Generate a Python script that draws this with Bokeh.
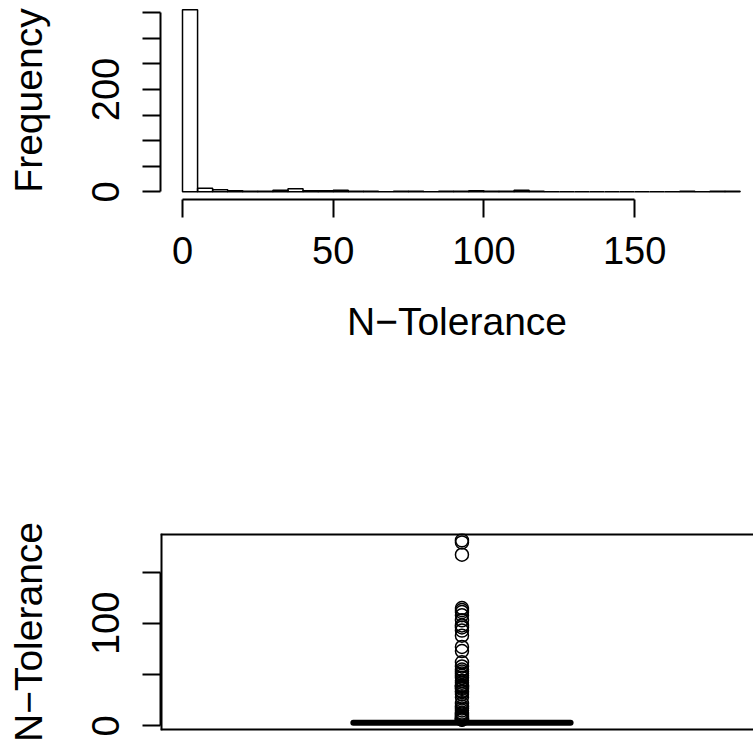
from bokeh.plotting import figure
from bokeh.layouts import column
from bokeh.models import FixedTicker, Range1d, Span
from bokeh.embed import file_html
from bokeh.resources import INLINE

# ---------------- data ----------------
hist_breaks = [0, 5, 10, 15, 20, 25, 30, 35, 40, 45, 50, 55, 60, 65, 70, 75, 80, 85, 90,
               95, 100, 105, 110, 115, 120, 125, 130, 135, 140, 145, 150, 155, 160, 165,
               170, 175, 180, 185]
hist_counts = [356, 7, 4, 2, 1, 1, 3, 6, 2, 2, 3, 1, 1, 0, 1, 1, 0, 1, 1, 2, 1, 1, 3, 1,
               0, 0, 0, 0, 0, 0, 0, 0, 0, 1, 0, 1, 1]

hist_xticks = [0, 50, 100, 150]
hist_yticks = [0, 50, 100, 150, 200, 250, 300, 350]
hist_ylabels_shown = [0, 200]

box_stats = {"low": 2, "q1": 2, "median": 3, "q3": 3, "high": 4}
box_outliers = [6, 6, 7, 7, 8, 9, 10, 11, 12, 13, 15, 17, 19, 22, 28, 31, 33, 34,
                36, 37, 38, 39, 39, 40, 42, 44, 47, 49, 51, 53, 55, 58, 62, 73, 77,
                88, 93, 96, 98, 103, 108, 111, 113, 115, 167, 179, 181]
box_yticks = [0, 50, 100, 150]
box_ylabels_shown = [0, 100]

FONT = "Liberation Sans"
TICK_FS = "38px"
TITLE_FS = "39px"


def style_axis(ax):
    ax.axis_line_color = "black"
    ax.axis_line_width = 2
    ax.major_tick_line_color = "black"
    ax.major_tick_line_width = 2
    ax.major_tick_in = 0
    ax.major_tick_out = 18
    ax.minor_tick_line_color = None
    ax.major_label_text_font = FONT
    ax.major_label_text_font_size = TICK_FS
    ax.major_label_text_color = "black"
    ax.axis_label_text_font = FONT
    ax.axis_label_text_font_size = TITLE_FS
    ax.axis_label_text_font_style = "normal"
    ax.axis_label_text_color = "black"


# ---------------- histogram ----------------
p1 = figure(width=753, height=368, output_backend="svg", toolbar_location=None,
            x_range=Range1d(-7.30, 189.45), y_range=Range1d(-15.06, 372.1),
            min_border_left=160, min_border_right=0, min_border_top=1,
            min_border_bottom=169)
p1.outline_line_color = None
p1.xgrid.visible = False
p1.ygrid.visible = False

p1.quad(left=hist_breaks[:-1], right=hist_breaks[1:], bottom=0, top=hist_counts,
        fill_color=None, line_color="black", line_width=1.5)

xa = p1.xaxis[0]
style_axis(xa)
xa.ticker = FixedTicker(ticks=hist_xticks, minor_ticks=[])
xa.bounds = (hist_xticks[0], hist_xticks[-1])
xa.major_label_standoff = 19
xa.axis_label = "N\u2212Tolerance"
xa.axis_label_standoff = 33

ya = p1.yaxis[0]
style_axis(ya)
ya.ticker = FixedTicker(ticks=hist_yticks, minor_ticks=[])
ya.bounds = (hist_yticks[0], hist_yticks[-1])
ya.major_label_overrides = {t: "" for t in hist_yticks if t not in hist_ylabels_shown}
ya.major_label_orientation = "vertical"
ya.major_label_standoff = 23
ya.axis_label = "Frequency"
ya.axis_label_standoff = 40

# ---------------- boxplot ----------------
p2 = figure(width=753, height=379, output_backend="svg", toolbar_location=None,
            x_range=Range1d(-0.110, 2.0735), y_range=Range1d(-4.49, 187.7),
            min_border_left=159, min_border_right=0, min_border_top=165,
            min_border_bottom=17)
p2.outline_line_color = None
p2.xgrid.visible = False
p2.ygrid.visible = False
p2.xaxis.visible = False

# plot frame: top, bottom and left sides (the right side falls outside the picture)
for loc in [p2.y_range.end, p2.y_range.start]:
    p2.add_layout(Span(location=loc, dimension="width", line_color="black", line_width=4))
p2.add_layout(Span(location=p2.x_range.start, dimension="height", line_color="black",
                   line_width=4))

# whiskers
p2.segment(x0=[1, 1], y0=[box_stats["q3"], box_stats["q1"]], x1=[1, 1],
           y1=[box_stats["high"], box_stats["low"]], line_color="black",
           line_width=1.5, line_dash="6 4")
# staples
p2.segment(x0=[0.8, 0.8], y0=[box_stats["high"], box_stats["low"]], x1=[1.2, 1.2],
           y1=[box_stats["high"], box_stats["low"]], line_color="black", line_width=1.5)
# box
p2.quad(left=[0.6], right=[1.4], bottom=[box_stats["q1"]], top=[box_stats["q3"]],
        fill_color=None, line_color="black", line_width=1.5)
# median
p2.segment(x0=[0.6], y0=[box_stats["median"]], x1=[1.4], y1=[box_stats["median"]],
           line_color="black", line_width=6, line_cap="round")
# outliers
p2.scatter(x=[1] * len(box_outliers), y=box_outliers, marker="circle", size=13,
           fill_color=None, line_color="black", line_width=1.5)

ya2 = p2.yaxis[0]
style_axis(ya2)
ya2.ticker = FixedTicker(ticks=box_yticks, minor_ticks=[])
ya2.bounds = (box_yticks[0], box_yticks[-1])
ya2.major_label_overrides = {t: "" for t in box_yticks if t not in box_ylabels_shown}
ya2.major_label_orientation = "vertical"
ya2.major_label_standoff = 23
ya2.axis_label = "N\u2212Tolerance"
ya2.axis_label_standoff = 40

layout = column(p1, p2, spacing=0)
open("out.html", "w").write(file_html(layout, INLINE))
